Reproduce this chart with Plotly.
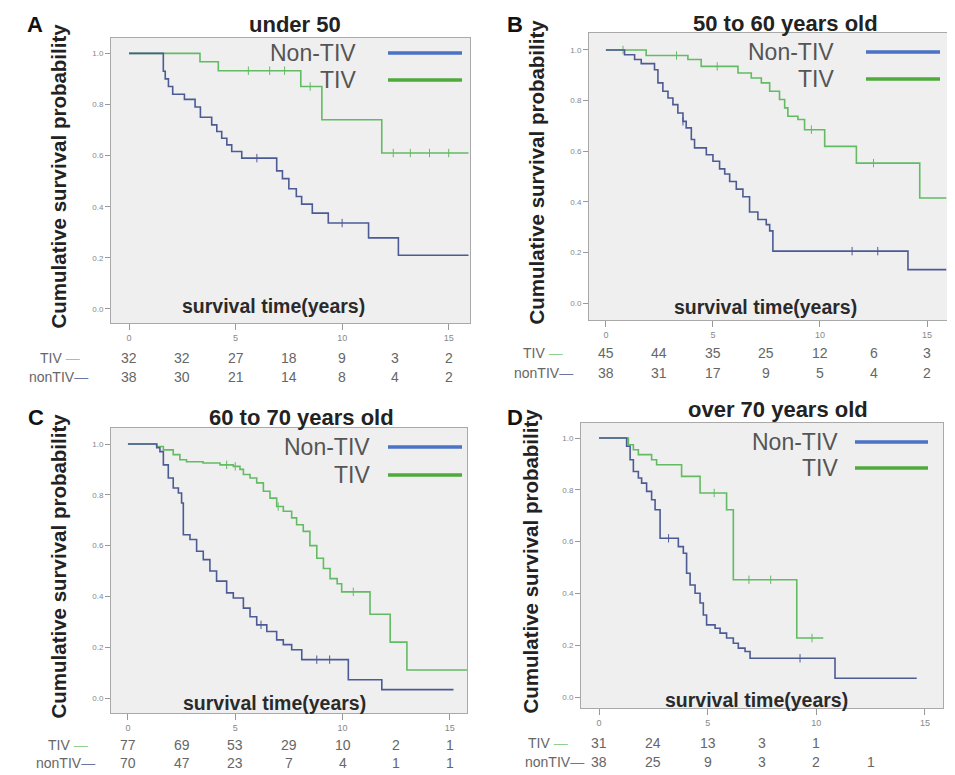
import plotly.graph_objects as go

# The page body has an 8px margin, so the figure is drawn 8px in from the window corner.
OFF = 8
W, H = 955 - OFF, 775 - OFF

# ---------------- data ----------------
panel_titles = ["under 50", "50 to 60 years old", "60 to 70 years old", "over 70 years old"]
panel_letters = ["A", "B", "C", "D"]

A_tiv_t = [0, 3.33, 4.19, 8.06, 9.05, 11.86, 15.93]
A_tiv_s = [1.0, 0.967, 0.932, 0.87, 0.74, 0.61, 0.61]
A_non_t = [0, 1.61, 1.70, 1.85, 2.05, 2.6, 3.1, 3.35, 3.88, 4.12, 4.35, 4.59, 4.82, 5.29,
           6.93, 7.2, 7.5, 7.85, 8.1, 8.6, 9.35, 11.24, 12.64, 15.93]
A_non_s = [1.0, 0.93, 0.90, 0.87, 0.84, 0.82, 0.79, 0.75, 0.72, 0.694, 0.668, 0.642, 0.616, 0.59,
           0.54, 0.51, 0.47, 0.44, 0.41, 0.375, 0.336, 0.278, 0.21, 0.21]

B_tiv_t = [0, 1.88, 3.83, 4.45, 6.17, 6.79, 7.26, 7.65, 8.11, 8.35, 8.5, 8.97, 9.28, 10.22, 11.7, 14.66, 15.9]
B_tiv_s = [1.0, 0.978, 0.962, 0.935, 0.909, 0.889, 0.87, 0.837, 0.804, 0.771, 0.738, 0.725, 0.685,
           0.619, 0.553, 0.415, 0.415]
B_non_t = [0, 0.87, 1.34, 1.65, 2.27, 2.43, 2.66, 2.9, 3.13, 3.36, 3.6, 3.75, 3.99, 4.14, 4.69, 5.0,
           5.31, 5.55, 5.78, 6.09, 6.4, 6.71, 7.1, 7.49, 7.65, 7.8, 14.11, 15.9]
B_non_s = [1.0, 0.981, 0.962, 0.946, 0.922, 0.87, 0.837, 0.81, 0.784, 0.751, 0.718, 0.692, 0.646, 0.613,
           0.586, 0.56, 0.53, 0.51, 0.48, 0.45, 0.42, 0.36, 0.33, 0.31, 0.285, 0.205, 0.132, 0.132]

C_tiv_t = [0, 1.34, 1.65, 2.11, 2.42, 2.73, 3.5, 4.29, 4.91, 5.22, 5.38, 5.69, 6.0, 6.31, 6.62, 6.93,
           7.24, 7.63, 7.86, 8.17, 8.48, 8.8, 9.11, 9.42, 9.75, 9.96, 11.28, 12.22, 13.0, 15.8]
C_tiv_s = [1.0, 0.99, 0.977, 0.958, 0.938, 0.93, 0.925, 0.918, 0.912, 0.9, 0.88, 0.866, 0.847, 0.814,
           0.787, 0.754, 0.735, 0.709, 0.682, 0.656, 0.6, 0.55, 0.51, 0.47, 0.45, 0.418, 0.33, 0.22,
           0.11, 0.11]
C_non_t = [0, 1.34, 1.49, 1.65, 1.88, 2.11, 2.35, 2.5, 2.58, 2.89, 3.2, 3.51, 3.82, 4.13, 4.6, 4.91,
           5.38, 5.69, 6.0, 6.47, 6.93, 7.24, 7.63, 8.1, 10.27, 11.83, 15.17]
C_non_s = [1.0, 0.985, 0.97, 0.918, 0.866, 0.827, 0.807, 0.768, 0.643, 0.624, 0.578, 0.545, 0.5, 0.46,
           0.414, 0.394, 0.354, 0.32, 0.288, 0.262, 0.229, 0.21, 0.19, 0.151, 0.072, 0.033, 0.033]

D_tiv_t = [0, 1.35, 1.58, 1.81, 2.42, 2.65, 3.8, 4.65, 5.87, 6.18, 9.1, 10.32]
D_tiv_s = [1.0, 0.974, 0.955, 0.936, 0.916, 0.897, 0.852, 0.788, 0.723, 0.453, 0.228, 0.228]
D_non_t = [0, 1.27, 1.43, 1.58, 1.81, 1.96, 2.19, 2.42, 2.58, 2.81, 3.65, 3.88, 4.03, 4.19, 4.42, 4.65,
           4.8, 4.95, 5.34, 5.57, 5.87, 6.18, 6.41, 6.72, 6.95, 10.86, 14.62]
D_non_s = [1.0, 0.968, 0.916, 0.871, 0.846, 0.826, 0.794, 0.762, 0.723, 0.613, 0.581, 0.555, 0.478,
           0.433, 0.401, 0.363, 0.317, 0.279, 0.266, 0.247, 0.228, 0.208, 0.189, 0.176, 0.15, 0.073, 0.073]

# censored observations (time, survival level)
A_tiv_cens = [(5.6, 0.932), (6.6, 0.932), (7.3, 0.932), (8.5, 0.87), (12.4, 0.61), (13.2, 0.61), (14.1, 0.61), (15.0, 0.61)]
A_non_cens = [(6.0, 0.59), (10.0, 0.336)]
B_tiv_cens = [(0.8, 1.0), (3.3, 0.978), (5.2, 0.935), (9.6, 0.685), (12.5, 0.553)]
B_non_cens = [(3.6, 0.718), (11.5, 0.205), (12.7, 0.205)]
C_tiv_cens = [(4.6, 0.918), (5.0, 0.912), (7.0, 0.754), (10.5, 0.418)]
C_non_cens = [(8.8, 0.151), (9.4, 0.151), (6.2, 0.288)]
D_tiv_cens = [(5.3, 0.788), (6.9, 0.453), (7.9, 0.453), (9.8, 0.228)]
D_non_cens = [(3.2, 0.613), (9.25, 0.15)]

risk_times = [0, 2.5, 5, 7.5, 10, 12.5, 15]
A_risk_tiv = ["32", "32", "27", "18", "9", "3", "2"]
A_risk_non = ["38", "30", "21", "14", "8", "4", "2"]
B_risk_tiv = ["45", "44", "35", "25", "12", "6", "3"]
B_risk_non = ["38", "31", "17", "9", "5", "4", "2"]
C_risk_tiv = ["77", "69", "53", "29", "10", "2", "1"]
C_risk_non = ["70", "47", "23", "7", "4", "1", "1"]
D_risk_tiv = ["31", "24", "13", "3", "1", "", ""]
D_risk_non = ["38", "25", "9", "3", "2", "1", ""]

x_ticks = [0, 5, 10, 15]
y_ticks = [0.0, 0.2, 0.4, 0.6, 0.8, 1.0]
y_tick_text = ["0.0", "0.2", "0.4", "0.6", "0.8", "1.0"]

legend_names = ["Non-TIV", "TIV"]

# ---------------- layout geometry (window pixels) ----------------
panels = [
    dict(box=(111, 38, 470, 323), xr=(-0.845, 16.0), yr=(-0.055, 1.06),
         tiv=(A_tiv_t, A_tiv_s, A_tiv_cens), non=(A_non_t, A_non_s, A_non_cens),
         risk=(A_risk_tiv, A_risk_non), rows=(358, 377), lab=(82, 90),
         letter=(35, 25), title=(295, 25), ytitle=58, xtitle=(273, 306),
         leg=(358, 53, 80, 388, 462)),
    dict(box=(589, 33, 948, 320), xr=(-0.79, 15.98), yr=(-0.067, 1.067),
         tiv=(B_tiv_t, B_tiv_s, B_tiv_cens), non=(B_non_t, B_non_s, B_non_cens),
         risk=(B_risk_tiv, B_risk_non), rows=(353, 373), lab=(565, 575),
         letter=(515, 25), title=(785, 24), ytitle=536, xtitle=(765, 307),
         leg=(836, 52, 79, 866, 940)),
    dict(box=(111, 428, 467, 713), xr=(-0.79, 15.8), yr=(-0.059, 1.063),
         tiv=(C_tiv_t, C_tiv_s, C_tiv_cens), non=(C_non_t, C_non_s, C_non_cens),
         risk=(C_risk_tiv, C_risk_non), rows=(745, 763), lab=(90, 97),
         letter=(36, 418), title=(301, 418), ytitle=58, xtitle=(274, 703),
         leg=(372, 447, 475, 388, 462)),
    dict(box=(581, 423, 943, 708), xr=(-0.83, 15.83), yr=(-0.042, 1.058),
         tiv=(D_tiv_t, D_tiv_s, D_tiv_cens), non=(D_non_t, D_non_s, D_non_cens),
         risk=(D_risk_tiv, D_risk_non), rows=(743, 762), lab=(570, 586),
         letter=(515, 417), title=(778, 409), ytitle=530, xtitle=(756, 700),
         leg=(840, 442, 468, 855, 928)),
]

FONT = "Liberation Sans, Arial, sans-serif"
BLUE = "#4d5b95"
GREEN = "#63bb63"
LEG_BLUE = "#4a72c6"
LEG_GREEN = "#4faa3c"


def px(x):
    return (x - OFF) / W


def py(y):
    return 1 - (y - OFF) / H


fig = go.Figure()
annotations = []
shapes = []
layout = {}

for i, p in enumerate(panels):
    n = "" if i == 0 else str(i + 1)
    xa, ya = "x" + n, "y" + n
    x0, y0, x1, y1 = p["box"]
    layout["xaxis" + n] = dict(
        domain=[px(x0), px(x1)], range=list(p["xr"]), anchor=ya,
        tickvals=x_ticks, ticks="outside", ticklen=6, tickcolor="#999",
        tickfont=dict(size=9, color="#888", family=FONT),
        showline=True, linecolor="#a9a9a9", linewidth=1, mirror=True,
        showgrid=False, zeroline=False, fixedrange=True)
    layout["yaxis" + n] = dict(
        domain=[py(y1), py(y0)], range=list(p["yr"]), anchor=xa,
        tickvals=y_ticks, ticktext=y_tick_text, ticks="outside", ticklen=5, tickcolor="#999",
        tickfont=dict(size=8, color="#888", family=FONT),
        showline=True, linecolor="#a9a9a9", linewidth=1, mirror=True,
        showgrid=False, zeroline=False, fixedrange=True)

    for key, col in (("tiv", GREEN), ("non", BLUE)):
        t, s, cens = p[key]
        fig.add_trace(go.Scatter(x=t, y=s, mode="lines", line=dict(color=col, width=1.6, shape="hv"),
                                 xaxis=xa, yaxis=ya, showlegend=False, hoverinfo="skip"))
        fig.add_trace(go.Scatter(x=[c[0] for c in cens], y=[c[1] for c in cens], mode="markers",
                                 marker=dict(symbol="line-ns", size=6, line=dict(color=col, width=1)),
                                 xaxis=xa, yaxis=ya, showlegend=False, hoverinfo="skip"))

    # panel letter and title
    annotations.append(dict(x=px(p["letter"][0]), y=py(p["letter"][1]), xref="paper", yref="paper",
                            text="<b>%s</b>" % panel_letters[i], showarrow=False,
                            font=dict(size=22, color="#111", family=FONT), xanchor="center", yanchor="middle"))
    annotations.append(dict(x=px(p["title"][0]), y=py(p["title"][1]), xref="paper", yref="paper",
                            text="<b>%s</b>" % panel_titles[i], showarrow=False,
                            font=dict(size=22, color="#222", family=FONT), xanchor="center", yanchor="middle"))
    # y title
    annotations.append(dict(x=px(p["ytitle"]), y=py((y0 + y1) / 2 - 4), xref="paper", yref="paper",
                            text="<b>Cumulative survival probability</b>", textangle=-90, showarrow=False,
                            font=dict(size=20.5, color="#222", family=FONT), xanchor="center", yanchor="middle"))
    # x title inside plot
    annotations.append(dict(x=px(p["xtitle"][0]), y=py(p["xtitle"][1]), xref="paper", yref="paper",
                            text="<b>survival time(years)</b>", showarrow=False,
                            font=dict(size=19.5, color="#2a2a2a", family=FONT), xanchor="center", yanchor="middle"))
    # legend
    lx, ly1, ly2, ls0, ls1 = p["leg"]
    for name, yy, col in ((legend_names[0], ly1, LEG_BLUE), (legend_names[1], ly2, LEG_GREEN)):
        annotations.append(dict(x=px(lx), y=py(yy), xref="paper", yref="paper", text=name, showarrow=False,
                                font=dict(size=23, color="#555", family=FONT), xanchor="right", yanchor="middle"))
        shapes.append(dict(type="line", xref="paper", yref="paper", x0=px(ls0), x1=px(ls1),
                           y0=py(yy), y1=py(yy), line=dict(color=col, width=3.5)))
    # risk table
    r_tiv, r_non = p["risk"]
    ry1, ry2 = p["rows"]
    annotations.append(dict(x=px(p["lab"][0]), y=py(ry1), xref="paper", yref="paper",
                            text='TIV <span style="color:#8fd08f">—</span>', showarrow=False,
                            font=dict(size=14, color="#666", family=FONT), xanchor="right", yanchor="middle"))
    annotations.append(dict(x=px(p["lab"][1]), y=py(ry2), xref="paper", yref="paper",
                            text='nonTIV<span style="color:#6a74a0">—</span>', showarrow=False,
                            font=dict(size=14, color="#666", family=FONT), xanchor="right", yanchor="middle"))
    for t, a, b in zip(risk_times, r_tiv, r_non):
        for val, yy in ((a, ry1), (b, ry2)):
            if val:
                annotations.append(dict(x=t, y=py(yy), xref=xa, yref="paper", text=val, showarrow=False,
                                        font=dict(size=14, color="#666", family=FONT),
                                        xanchor="center", yanchor="middle"))

fig.update_layout(
    width=W, height=H, margin=dict(l=0, r=0, t=0, b=0),
    paper_bgcolor="white", plot_bgcolor="#efefef",
    showlegend=False, annotations=annotations, shapes=shapes, **layout)

fig.write_html("out.html")
